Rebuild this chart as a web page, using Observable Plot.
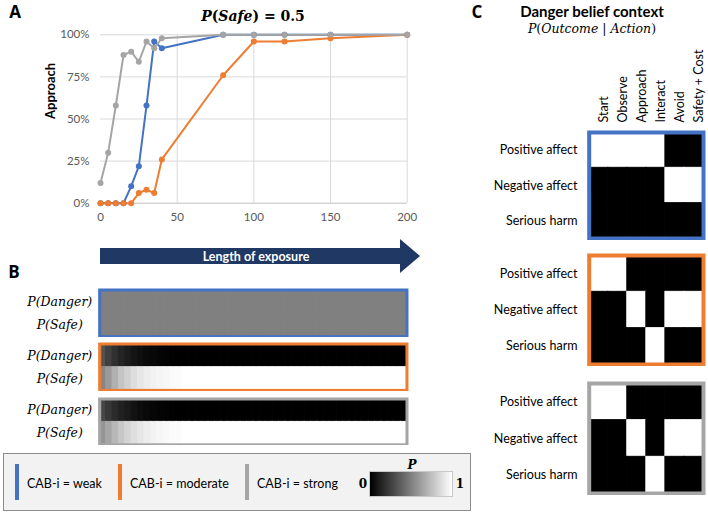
<!DOCTYPE html>
<html><head><meta charset="utf-8">
<script src="https://cdn.jsdelivr.net/npm/d3@7"></script>
<script src="https://cdn.jsdelivr.net/npm/@observablehq/plot@0.6"></script>
<style>
body{margin:0;background:#fff;}
#root{position:relative;width:708px;height:515px;overflow:hidden;font-family:Lato,sans-serif;color:#000;}
.abs{position:absolute;}
.ctr{position:absolute;transform:translate(-50%,-50%);white-space:nowrap;}
.math{font-family:"DejaVu Serif",serif;}
.letter{font-weight:bold;font-size:17px;font-family:"Open Sans",sans-serif;line-height:20px;}
</style></head><body><div id="root"></div>
<script>
// ---------- Panel A data ----------
const exposure = [0, 5, 10, 15, 20, 25, 30, 35, 40, 80, 100, 120, 150, 200];
const approachWeak = [0, 0, 0, 0, 0.10, 0.22, 0.58, 0.96, 0.92, 1, 1, 1, 1, 1];
const approachModerate = [0, 0, 0, 0, 0, 0.06, 0.08, 0.06, 0.26, 0.76, 0.96, 0.96, 0.98, 1];
const approachStrong = [0.12, 0.30, 0.58, 0.88, 0.90, 0.84, 0.96, 0.92, 0.98, 1, 1, 1, 1, 1];
const xTicks = [0, 50, 100, 150, 200];
const yTicks = [0, 0.25, 0.5, 0.75, 1];
const groups = ["CAB-i = weak", "CAB-i = moderate", "CAB-i = strong"];
const groupColors = ["#4472C4", "#ED7D31", "#A5A5A5"];

// ---------- Panel B data (belief over exposure steps) ----------
const beliefRows = ["P(Danger)", "P(Safe)"];
const weakDanger = [0.5,0.5,0.5,0.5,0.5,0.5,0.5,0.5,0.5,0.5,0.5,0.5,0.5,0.5,0.5,0.5,0.5,0.5,0.5,0.5,0.5,0.5,0.5,0.5,0.5,0.5,0.5,0.5,0.5,0.5,0.5,0.5,0.5,0.5,0.5,0.5,0.5,0.5,0.5,0.5,0.5,0.5,0.5,0.5,0.5,0.5,0.5,0.5];
const weakSafe   = [0.5,0.5,0.5,0.5,0.5,0.5,0.5,0.5,0.5,0.5,0.5,0.5,0.5,0.5,0.5,0.5,0.5,0.5,0.5,0.5,0.5,0.5,0.5,0.5,0.5,0.5,0.5,0.5,0.5,0.5,0.5,0.5,0.5,0.5,0.5,0.5,0.5,0.5,0.5,0.5,0.5,0.5,0.5,0.5,0.5,0.5,0.5,0.5];
const moderateDanger = [0.32,0.25,0.19,0.14,0.11,0.08,0.06,0.04,0.03,0.02,0.01,0.005,0,0,0,0,0,0,0,0,0,0,0,0,0,0,0,0,0,0,0,0,0,0,0,0,0,0,0,0,0,0,0,0,0,0,0,0];
const moderateSafe   = [0.52,0.60,0.69,0.77,0.82,0.87,0.90,0.93,0.95,0.96,0.97,0.98,0.99,1,1,1,1,1,1,1,1,1,1,1,1,1,1,1,1,1,1,1,1,1,1,1,1,1,1,1,1,1,1,1,1,1,1,1];
const strongDanger = [0.28,0.22,0.17,0.13,0.10,0.07,0.05,0.035,0.025,0.015,0.01,0.005,0,0,0,0,0,0,0,0,0,0,0,0,0,0,0,0,0,0,0,0,0,0,0,0,0,0,0,0,0,0,0,0,0,0,0,0];
const strongSafe   = [0.58,0.65,0.72,0.78,0.83,0.87,0.90,0.93,0.95,0.965,0.975,0.985,0.99,1,1,1,1,1,1,1,1,1,1,1,1,1,1,1,1,1,1,1,1,1,1,1,1,1,1,1,1,1,1,1,1,1,1,1];

// ---------- Panel C data ----------
const actions = ["Start", "Observe", "Approach", "Interact", "Avoid", "Safety + Cost"];
const outcomes = ["Positive affect", "Negative affect", "Serious harm"];
const weakMatrix = [[1,1,1,1,0,0],[0,0,0,0,1,1],[0,0,0,0,0,0]];
const moderateMatrix = [[1,1,0,0,0,0],[0,0,1,0,1,1],[0,0,0,1,0,0]];
const strongMatrix = [[1,1,0,0,0,0],[0,0,1,0,1,1],[0,0,0,1,0,0]];

const gray = {type: "linear", domain: [0, 1], range: ["#000000", "#ffffff"], interpolate: "rgb"};

const root = document.getElementById("root");
function place(node, left, top) {
  const d = document.createElement("div");
  d.className = "abs";
  d.style.left = left + "px"; d.style.top = top + "px";
  d.appendChild(node); root.appendChild(d); return d;
}
function html(str, cls, left, top, style) {
  const d = document.createElement("div");
  d.className = cls; d.style.left = left + "px"; d.style.top = top + "px";
  if (style) d.style.cssText += style;
  d.innerHTML = str; root.appendChild(d); return d;
}

// ---------- Panel A ----------
const seriesVals = [approachWeak, approachModerate, approachStrong];
const pts = groups.flatMap((g, k) => exposure.map((x, i) => ({x, y: seriesVals[k][i], g})));
const chartA = Plot.plot({
  width: 420, height: 232,
  marginLeft: 100, marginRight: 13.3, marginTop: 34.3, marginBottom: 29.3,
  style: {fontFamily: "Lato, sans-serif", fontSize: "11.5px", color: "#595959", background: "transparent"},
  x: {domain: [0, 200], label: null},
  y: {domain: [0, 1], label: null},
  color: {domain: groups, range: groupColors},
  marks: [
    Plot.gridX(xTicks.filter(d => d > 0), {stroke: "#d9d9d9", strokeOpacity: 1}),
    Plot.gridY(yTicks.filter(d => d > 0), {stroke: "#d9d9d9", strokeOpacity: 1}),
    Plot.ruleY([0], {stroke: "#bfbfbf"}),
    Plot.axisX(xTicks, {tickSize: 0, tickPadding: 10, label: null}),
    Plot.axisY(yTicks, {tickSize: 0, tickPadding: 11, tickFormat: d3.format(".0%"), label: null}),
    Plot.line(pts, {x: "x", y: "y", z: "g", stroke: "g", strokeWidth: 2}),
    Plot.dot(pts, {x: "x", y: "y", fill: "g", r: 3}),
    Plot.text(["Approach"], {frameAnchor: "left", dx: -50, rotate: -90, fontWeight: "bold", fontSize: 13, fill: "#000"})
  ]
});
place(chartA, 0, 0);

html('<i>P</i>(<i>Safe</i>) = 0.5', "ctr math", 253, 16, "font-weight:bold;font-size:14px;");
html("A", "ctr letter", 15, 12);
html("B", "ctr letter", 14, 272);
html("C", "ctr letter", 477, 12);

// arrow
const NS = "http://www.w3.org/2000/svg";
const arrow = document.createElementNS(NS, "svg");
arrow.setAttribute("width", 708); arrow.setAttribute("height", 40);
const poly = document.createElementNS(NS, "polygon");
poly.setAttribute("points", "100,10 400,10 400,1 420,18 400,35 400,26 100,26");
poly.setAttribute("fill", "#203864");
arrow.appendChild(poly);
place(arrow, 0, 238);
html("Length of exposure", "ctr", 256, 256, "color:#fff;font-weight:bold;font-size:12.5px;");

// ---------- Panel B ----------
function beliefPlot(danger, safe, color, top, h) {
  const cells = [];
  danger.forEach((v, i) => cells.push({step: i, row: beliefRows[0], v}));
  safe.forEach((v, i) => cells.push({step: i, row: beliefRows[1], v}));
  const p = Plot.plot({
    width: 410, height: h, marginLeft: 99.2, marginRight: 3.5, marginTop: 1.5, marginBottom: 1.5,
    style: {background: "transparent"},
    x: {domain: danger.map((d, i) => i), padding: 0, round: false, axis: null},
    y: {domain: beliefRows, padding: 0, round: false, axis: null},
    color: gray,
    marks: [
      Plot.cell(cells, {x: "step", y: "row", fill: "v", stroke: "v", strokeWidth: 1, inset: 0}),
      Plot.frame({stroke: color, strokeWidth: 3}),
      Plot.text(beliefRows, {y: d => d, frameAnchor: "left", dx: -40, textAnchor: "middle",
        text: d => d, fontFamily: "DejaVu Serif", fontStyle: "italic", fontSize: 12.5, fill: "#000"})
    ]
  });
  place(p, 0, top);
}
beliefPlot(weakDanger, weakSafe, groupColors[0], 287.7, 49.6);
beliefPlot(moderateDanger, moderateSafe, groupColors[1], 341.7, 49.4);
beliefPlot(strongDanger, strongSafe, groupColors[2], 396.7, 48.8);

// ---------- Legend ----------
html("", "abs", 3, 453, "width:468px;height:58px;background:#f2f2f2;border:1px solid #8c8c8c;box-sizing:border-box;");
const legX = [17, 120, 247];
groups.forEach((g, k) => {
  html("", "abs", legX[k] - 2, 464, `width:4px;height:36px;background:${groupColors[k]};`);
  html(g, "ctr", legX[k] + 10, 483, "transform:translate(0,-50%);font-size:12.5px;color:#000;");
});
html("0", "ctr math", 363, 484, "font-weight:bold;font-size:12px;");
html("1", "ctr math", 460, 484, "font-weight:bold;font-size:12px;");
html("<i>P</i>", "ctr math", 412, 465, "font-weight:bold;font-size:12px;");
try {
  const ramp = Plot.legend({legend: "ramp", color: gray, width: 82, height: 24,
    marginTop: 0, marginBottom: 0, marginLeft: 0, marginRight: 0, ticks: [], tickSize: 0, label: null});
  const d = place(ramp, 370, 472);
  d.style.outline = "1px solid #c8c8c8"; d.style.height = "24px"; d.style.overflow = "hidden";
} catch (e) { console.error(e); }

// ---------- Panel C ----------
html("Danger belief context", "ctr", 592, 11, "font-weight:bold;font-size:15px;");
html('<i>P</i>(<i>Outcome</i> | <i>Action</i>)', "ctr math", 592, 28, "font-size:12.5px;");
function matrixPlot(M, color, top, h, mTop, showCols) {
  const cells = outcomes.flatMap((o, i) => actions.map((a, j) => ({o, a, v: M[i][j]})));
  const marks = [
    Plot.cell(cells, {x: "a", y: "o", fill: "v", stroke: "v", strokeWidth: 1, inset: 0}),
    Plot.frame({stroke: color, strokeWidth: 4}),
    Plot.text(outcomes, {y: d => d, frameAnchor: "left", dx: -11.7, textAnchor: "end", text: d => d,
      fontSize: 12.5, fill: "#000"})
  ];
  if (showCols) marks.push(Plot.text(actions, {x: d => d, frameAnchor: "top", dy: -10, rotate: -90,
    textAnchor: "start", text: d => d, fontSize: 12.5, fill: "#000"}));
  const p = Plot.plot({
    width: 278, height: h, marginLeft: 158.7, marginRight: 5, marginTop: mTop, marginBottom: 2,
    style: {fontFamily: "Lato, sans-serif", background: "transparent"},
    x: {domain: actions, padding: 0, round: false, axis: null},
    y: {domain: outcomes, padding: 0, round: false, axis: null},
    color: gray,
    marks
  });
  place(p, 430, top);
}
matrixPlot(weakMatrix, groupColors[0], 0, 240, 132, true);
matrixPlot(moderateMatrix, groupColors[1], 253, 113, 2, false);
matrixPlot(strongMatrix, "#a6a6a6", 381, 114, 2, false);
</script></body></html>
